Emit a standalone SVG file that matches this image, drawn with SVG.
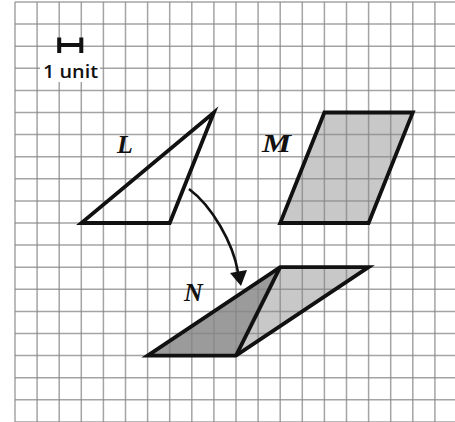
<svg xmlns="http://www.w3.org/2000/svg" width="455" height="422" viewBox="0 0 455 422">
<style>
.grid{stroke:#858585;stroke-opacity:0.75;stroke-width:1.5;fill:none}
.shape{stroke:#111;stroke-width:3.8;stroke-linejoin:miter;stroke-miterlimit:10}
.light{fill:#c8c8c8}
.dark{fill:#9b9b9b}
.lbl{font-family:"Liberation Serif","Times New Roman",serif;font-style:italic;font-weight:bold;font-size:26px;fill:#111}
.unit{font-family:"Open Sans","DejaVu Sans",sans-serif;font-weight:600;font-size:18px;fill:#111}
</style>
<rect width="455" height="422" fill="#fff"/>
<g id="fills">
<polygon class="light" points="324.4,112.5 412.8,112.5 368.6,223 280.2,223"/>
<polygon class="dark" points="147.6,355.6 236,355.6 280.2,267.2"/>
<polygon class="light" points="236,355.6 280.2,267.2 368.6,267.2"/>
</g>
<g id="grid" class="grid">
<path d="M15,2V422M37.1,2V422M59.2,2V422M81.3,2V422M103.4,2V422M125.5,2V422M147.6,2V422M169.7,2V422M191.8,2V422M213.9,2V422M236,2V422M258.1,2V422M280.2,2V422M302.3,2V422M324.4,2V422M346.5,2V422M368.6,2V422M390.7,2V422M412.8,2V422M434.9,2V422"/>
<path d="M15,2H455M15,24.1H455M15,46.2H455M15,68.3H455M15,90.4H455M15,112.5H455M15,134.6H455M15,156.7H455M15,178.8H455M15,200.9H455M15,223H455M15,245.1H455M15,267.2H455M15,289.3H455M15,311.4H455M15,333.5H455M15,355.6H455M15,377.7H455M15,399.8H455M15,421.9H455"/>
</g>
<g id="scale">
<rect x="40" y="53" width="60" height="29" fill="#fff"/>
<path d="M59.2,45H81.3M59.2,37.5V53M81.3,37.5V53" stroke="#111" stroke-width="4" fill="none"/>
<text class="unit" x="70.5" y="78" text-anchor="middle" textLength="55" lengthAdjust="spacingAndGlyphs">1 unit</text>
</g>
<g id="L">
<polygon class="shape" fill="none" points="81.3,223 169.7,223 213.9,112.5"/>
<text class="lbl" x="117" y="152.5">L</text>
</g>
<g id="M">
<polygon class="shape" fill="none" points="324.4,112.5 412.8,112.5 368.6,223 280.2,223"/>
<text class="lbl" x="262" y="152" textLength="29" lengthAdjust="spacingAndGlyphs">M</text>
</g>
<g id="N">
<polygon class="shape" fill="none" points="147.6,355.6 236,355.6 368.6,267.2 280.2,267.2"/>
<line class="shape" x1="236" y1="355.6" x2="280.2" y2="267.2"/>
<text class="lbl" x="184" y="301">N</text>
</g>
<g id="connectors">
<path d="M189,189C212,206 233,243 238,272" stroke="#111" stroke-width="2.6" fill="none"/>
<polygon points="241,286 230,273 247,270" fill="#111"/>
</g>
</svg>
